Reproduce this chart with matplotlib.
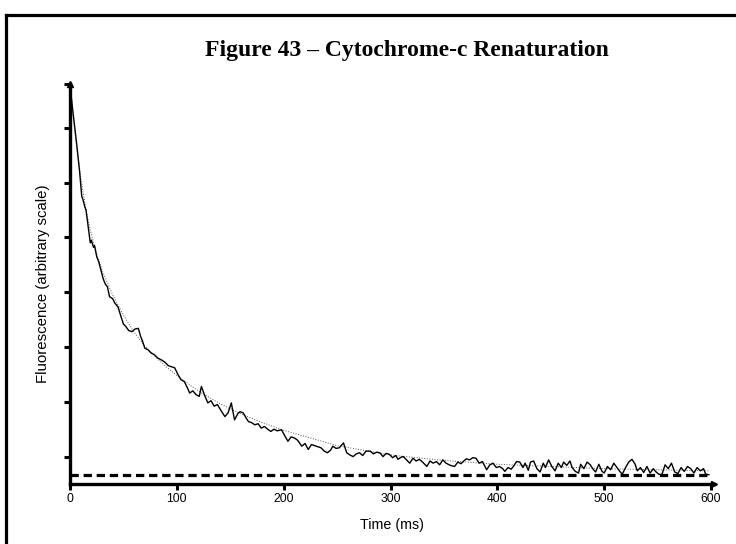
import numpy as np
import matplotlib.pyplot as plt
from matplotlib.lines import Line2D

# Stopped-flow trace, fluorescence in arbitrary units (one y tick = 1 unit)
early_t = [0, 1, 3, 6, 9, 11, 12, 14, 15, 17, 19, 20, 22, 23, 25, 27, 29, 31, 33, 35,
           37, 40, 42, 45, 47, 50, 52, 55, 58, 61, 64, 66, 68, 70, 73, 76, 79, 82, 86, 89,
           92, 95, 98, 101, 104]
early_y = [6.8, 6.6, 6.25, 5.75, 5.2, 4.75, 4.7, 4.55, 4.5, 4.2, 3.9, 3.95, 3.82, 3.85, 3.65,
           3.55, 3.4, 3.25, 3.15, 3.1, 2.92, 2.88, 2.8, 2.73, 2.6, 2.42, 2.38, 2.3, 2.28, 2.33,
           2.34, 2.2, 2.1, 1.98, 1.95, 1.89, 1.86, 1.8, 1.76, 1.72, 1.66, 1.64, 1.62, 1.5, 1.4]

mid_t = [107, 110, 112, 115, 118, 121, 123, 126, 129, 132, 135, 138, 141, 145, 148, 151, 154,
         157, 159, 162, 165, 167, 170, 173, 176, 179, 182, 185, 188, 191, 194, 198, 201, 204,
         207, 210, 213, 217, 220, 223, 226, 229, 232, 235, 238, 241, 244, 246, 249, 252, 256]
mid_y = [1.37, 1.25, 1.16, 1.2, 1.13, 1.1, 1.28, 1.12, 0.98, 1.02, 0.92, 0.95, 0.85, 0.73, 0.8,
         0.98, 0.67, 0.78, 0.82, 0.8, 0.7, 0.64, 0.62, 0.58, 0.6, 0.52, 0.55, 0.5, 0.46, 0.5,
         0.47, 0.49, 0.38, 0.28, 0.36, 0.34, 0.3, 0.19, 0.24, 0.13, 0.22, 0.2, 0.18, 0.16, 0.1,
         0.07, 0.12, 0.19, 0.15, 0.16, 0.25]

late_t = [259, 262, 265, 268, 271, 274, 277, 281, 284, 287, 290, 293, 296, 299, 302, 305, 307,
          310, 312, 315, 318, 321, 324, 327, 330, 334, 337, 340, 343, 346, 349, 352, 356, 360,
          363, 366, 368, 371, 374, 377, 380, 383, 386, 390, 393, 396, 399, 402, 405, 407, 410,
          413, 415, 418]
late_y = [0.07, 0.03, 0.0, 0.05, 0.07, 0.02, 0.1, 0.1, 0.05, 0.08, 0.07, 0.0, 0.06, 0.04, -0.02,
          0.02, -0.05, -0.01, 0.0, -0.06, -0.12, -0.03, -0.08, -0.05, -0.1, -0.18, -0.08, -0.12,
          -0.09, -0.15, -0.06, -0.12, -0.16, -0.18, -0.1, -0.13, -0.09, -0.04, -0.06, -0.02,
          -0.03, -0.12, -0.09, -0.24, -0.15, -0.12, -0.2, -0.18, -0.22, -0.27, -0.2, -0.23,
          -0.18, -0.09]

tail_t = [421, 424, 426, 429, 431, 434, 437, 440, 443, 445, 448, 451, 454, 457, 460, 462, 465,
          468, 470, 473, 476, 478, 481, 484, 487, 490, 492, 495, 498, 500, 503, 506, 509, 512,
          515, 517, 520, 523, 526, 529, 531, 534, 537, 540, 543, 546, 548, 551, 554, 557, 560,
          563, 566, 569, 572, 575, 578, 581, 584, 587, 590, 593, 595, 598]
tail_y = [-0.1, -0.2, -0.12, -0.25, -0.1, -0.08, -0.22, -0.28, -0.12, -0.2, -0.06, -0.18,
          -0.26, -0.12, -0.2, -0.1, -0.16, -0.08, -0.2, -0.27, -0.3, -0.14, -0.22, -0.1,
          -0.15, -0.24, -0.28, -0.14, -0.27, -0.3, -0.18, -0.24, -0.12, -0.2, -0.28, -0.32,
          -0.2, -0.1, -0.05, -0.14, -0.26, -0.2, -0.29, -0.18, -0.3, -0.22, -0.27, -0.32,
          -0.33, -0.15, -0.22, -0.12, -0.28, -0.31, -0.2, -0.27, -0.18, -0.22, -0.3, -0.2,
          -0.26, -0.22, -0.32, -0.33]

# Fitted decay curve
fit_t = [0, 3, 6, 10, 15, 20, 25, 30, 40, 50, 60, 70, 80, 90, 100, 120, 140, 160, 180, 200,
         250, 300, 350, 400, 500, 598]
fit_y = [6.8, 6.2, 5.7, 5.1, 4.5, 4.05, 3.7, 3.4, 2.95, 2.58, 2.27, 2.02, 1.82, 1.64, 1.48,
         1.2, 0.97, 0.78, 0.62, 0.48, 0.2, 0.03, -0.07, -0.14, -0.22, -0.26]

baseline = -0.33
x_ticks = [0, 100, 200, 300, 400, 500, 600]
y_ticks = [0, 1, 2, 3, 4, 5, 6, 6.8]

trace_t = np.array(early_t + mid_t + late_t + tail_t)
trace_y = np.array(early_y + mid_y + late_y + tail_y)

plt.rcParams['font.family'] = ['Liberation Sans', 'DejaVu Sans']

fig = plt.figure(figsize=(7.36, 5.44), dpi=100)
ax = fig.add_axes([0.0951, 0.1103, 0.8753, 0.7353])

ax.plot(fit_t, fit_y, color='0.35', lw=0.7, linestyle=':', zorder=2)
ax.plot(trace_t, trace_y, color='black', lw=1.0, zorder=3)
ax.plot([0, 598], [baseline, baseline], color='black', lw=2.3,
        dashes=(2.6, 1.5), zorder=4)

ax.set_xlim(0, 603)
ax.set_ylim(-0.5, 6.8)
ax.set_xticks(x_ticks)
ax.set_yticks(y_ticks)
ax.set_yticklabels([])
ax.tick_params(axis='both', direction='out', length=4.5, width=2.2, labelsize=8.7, pad=2)

for side in ['top', 'right']:
    ax.spines[side].set_visible(False)
for side in ['left', 'bottom']:
    ax.spines[side].set_linewidth(2.4)

# arrow heads on the axis ends
ax.plot([603], [-0.5], marker='>', color='black', markersize=5, clip_on=False, zorder=5)
ax.plot([0], [6.8], marker='^', color='black', markersize=5, clip_on=False, zorder=5)

ax.set_xlabel('Time (ms)', fontsize=10.3, labelpad=9)
ax.set_ylabel('Fluorescence (arbitrary scale)', fontsize=10.8, labelpad=8)

fig.text(0.553, 0.907, 'Figure 43 \u2013 Cytochrome-c Renaturation', fontsize=17,
         fontweight='bold', family=['Liberation Serif', 'DejaVu Serif'],
         ha='center', va='center')

# box around the figure (left and top edges)
fig.add_artist(Line2D([6.5 / 736, 6.5 / 736], [0, 1 - 14.5 / 544], color='black',
                      lw=2.3, transform=fig.transFigure, solid_capstyle='projecting'))
fig.add_artist(Line2D([6.5 / 736, 1], [1 - 14.5 / 544, 1 - 14.5 / 544], color='black',
                      lw=2.3, transform=fig.transFigure, solid_capstyle='projecting'))

fig.savefig('out.png', dpi=100)
